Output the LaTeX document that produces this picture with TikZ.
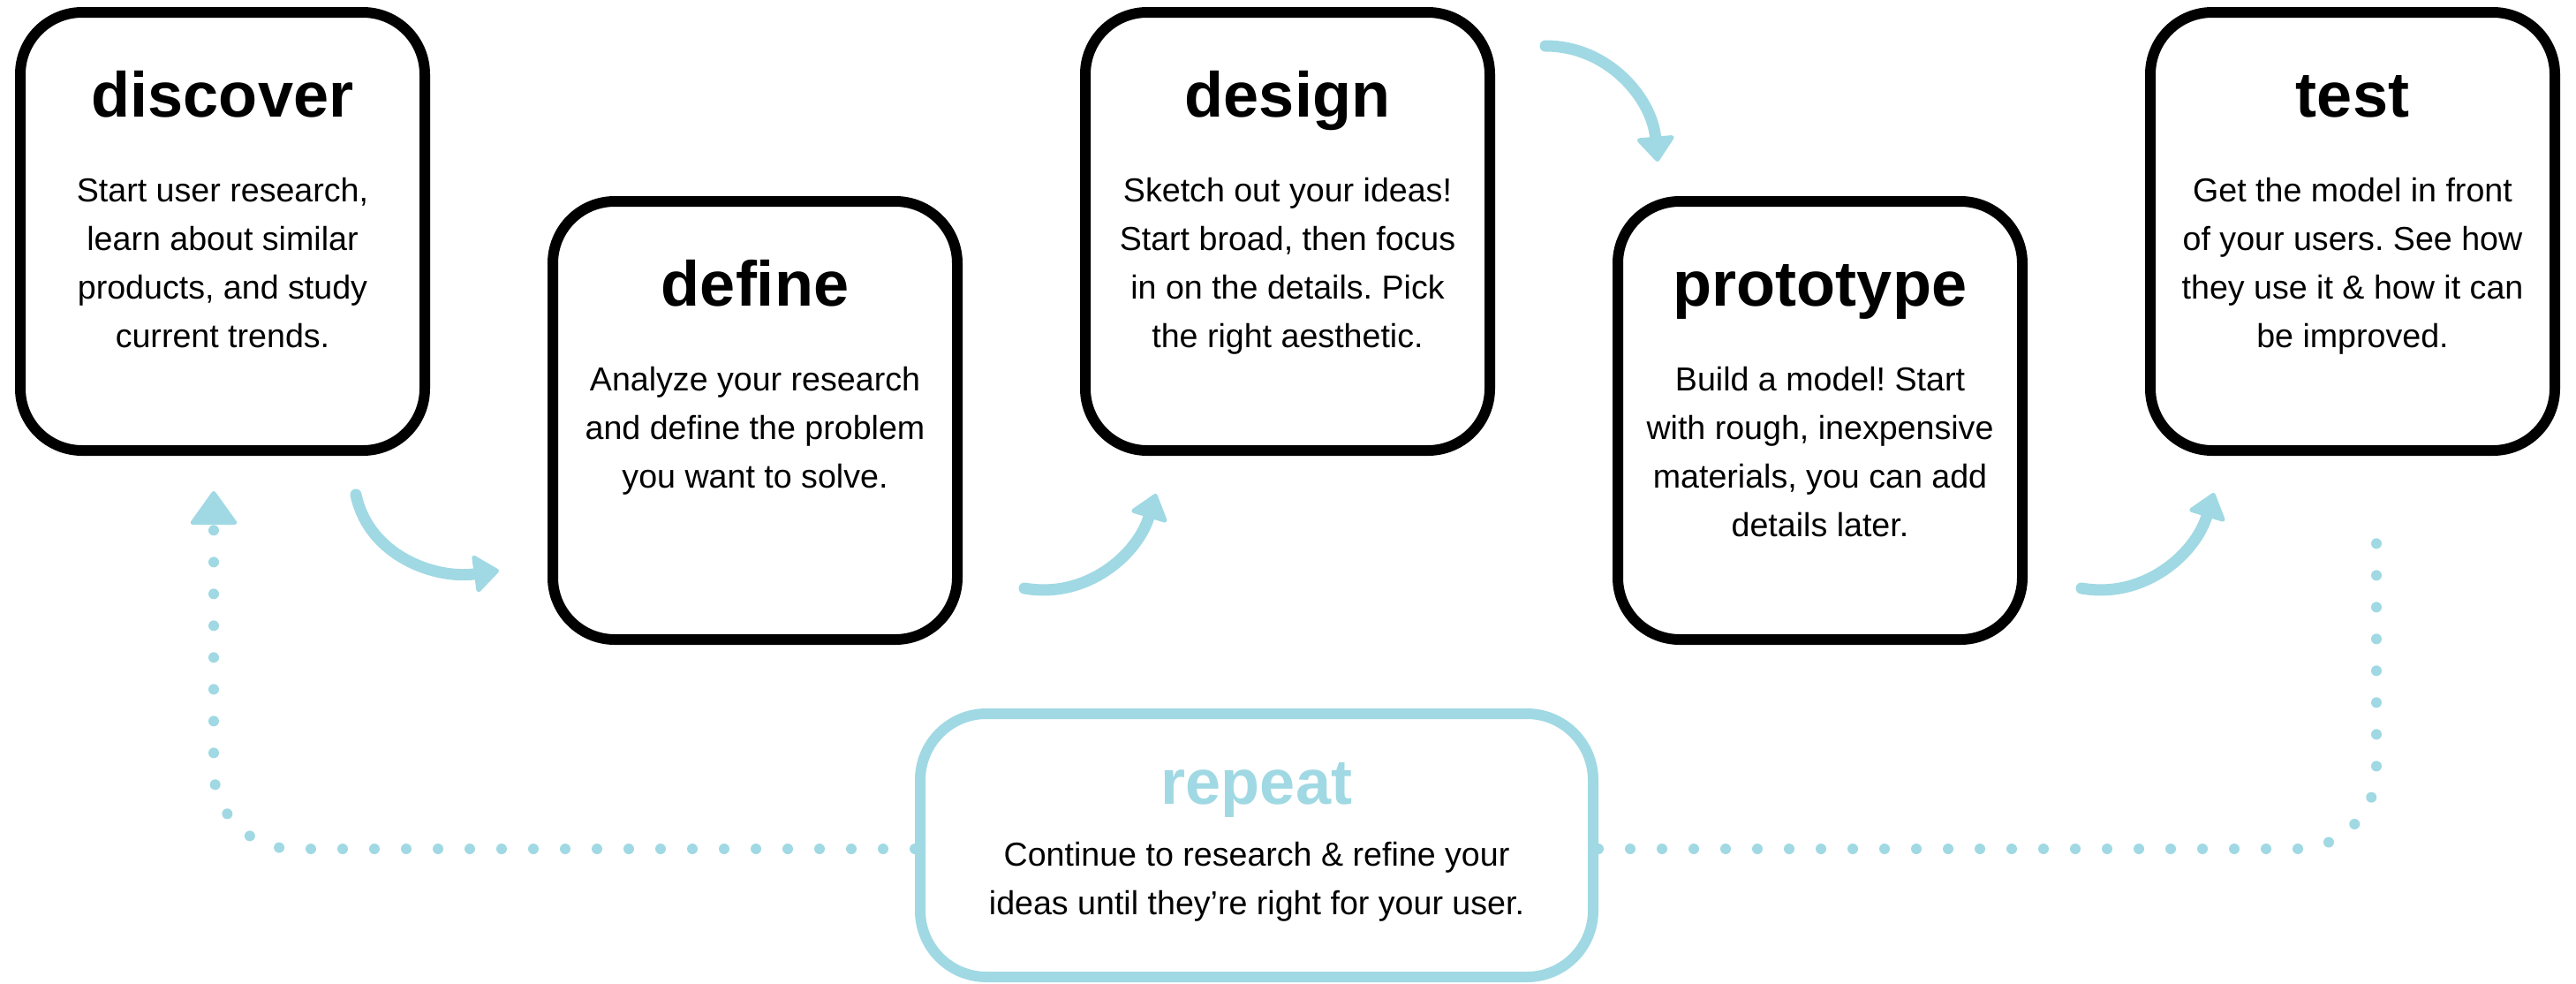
\documentclass[tikz,border=0pt]{standalone}
\usepackage{fontspec}
\setmainfont{Liberation Sans}
\usepackage{tikz}
\usetikzlibrary{arrows.meta,positioning,calc}
\definecolor{loopblue}{RGB}{160,217,227}
\newcommand\titlesize{\fontsize{20.5pt}{24pt}\selectfont}
\newcommand\bodysize{\fontsize{10.7pt}{15.6pt}\selectfont}
\frenchspacing

\begin{document}
\begin{tikzpicture}[
  stage/.style={draw=black, line width=0.12cm, rounded corners=0.7cm, fill=white, minimum width=4.58cm, minimum height=4.96cm},
  loopbox/.style={draw=loopblue, line width=0.12cm, rounded corners=0.75cm, fill=white, minimum width=7.62cm, minimum height=2.98cm},
  stagetitle/.style={font=\titlesize\bfseries, anchor=base, inner sep=0pt},
  stagetext/.style={font=\bodysize, align=center, anchor=base, inner sep=0pt},
  flow/.style={draw=loopblue, line width=0.13cm, line cap=round, -{Triangle[length=0.3cm,width=0.46cm,line width=0.05cm,round]}},
  dotline/.style={draw=loopblue, line width=0.12cm, line cap=round, dash pattern=on 0pt off 0.36cm, rounded corners=0.9cm}
]
\useasboundingbox (0,0) rectangle (29.17,-11.14);
% the five stages
\foreach \x/\y/\name/\id in {2.52/-2.62/discover/disc,8.55/-4.76/define/def,14.58/-2.62/design/des,20.61/-4.76/prototype/proto,26.64/-2.62/test/test} {
  \node[stage] (\id) at (\x,\y) {};
  \node[stagetitle] (\id t) at ([yshift=-1.24cm]\id.north) {\name};
}
% base of a text node is its last line
\node[stagetext] (disc b) at ([yshift=-3.85cm]disc.north) {Start user research,\\learn about similar\\products, and study\\current trends.};
\node[stagetext] (def b) at ([yshift=-3.30cm]def.north) {Analyze your research\\and define the problem\\you want to solve.};
\node[stagetext] (des b) at ([yshift=-3.85cm]des.north) {Sketch out your ideas!\\Start broad, then focus\\in on the details. Pick\\the right aesthetic.};
\node[stagetext] (proto b) at ([yshift=-3.85cm]proto.north) {Build a model! Start\\with rough, inexpensive\\materials, you can add\\details later.};
\node[stagetext] (test b) at ([yshift=-3.85cm]test.north) {Get the model in front\\of your users. See how\\they use it \& how it can\\be improved.};
% repeat box
\node[loopbox] (repeat) at (14.23,-9.57) {};
\node[stagetitle, text=loopblue] (repeat t) at ([yshift=-1.08cm]repeat.north) {repeat};
\node[stagetext] (repeat b) at ([yshift=-2.33cm]repeat.north) {Continue to research \& refine your\\ideas until they’re right for your user.};
% curved arrows between stages
\coordinate (a1s) at (4.03,-5.60);
\coordinate (a1e) at (5.65,-6.46);
\coordinate (a2s) at (11.60,-6.66);
\coordinate (a2e) at (13.09,-5.59);
\coordinate (a3s) at (17.50,-0.52);
\coordinate (a3e) at (18.77,-1.83);
\coordinate (a4s) at (23.57,-6.66);
\coordinate (a4e) at (25.07,-5.58);
\draw[flow] (a1s) to[out=-78,in=188] (a1e);
\draw[flow] (a2s) to[out=-10,in=253] (a2e);
\draw[flow] (a3s) to[out=0,in=95] (a3e);
\draw[flow] (a4s) to[out=-10,in=253] (a4e);
% dotted loop back
\coordinate (loopL) at (2.42,-5.56);
\coordinate (loopR) at (26.91,-5.82);
\draw[dotline, -{Triangle[length=0.4cm,width=0.56cm,line width=0.05cm,round]}] ([yshift=-0.04cm]repeat.west) -| (loopL);
\draw[dotline] ([yshift=-0.04cm]repeat.east) -| (loopR);
\end{tikzpicture}
\end{document}
